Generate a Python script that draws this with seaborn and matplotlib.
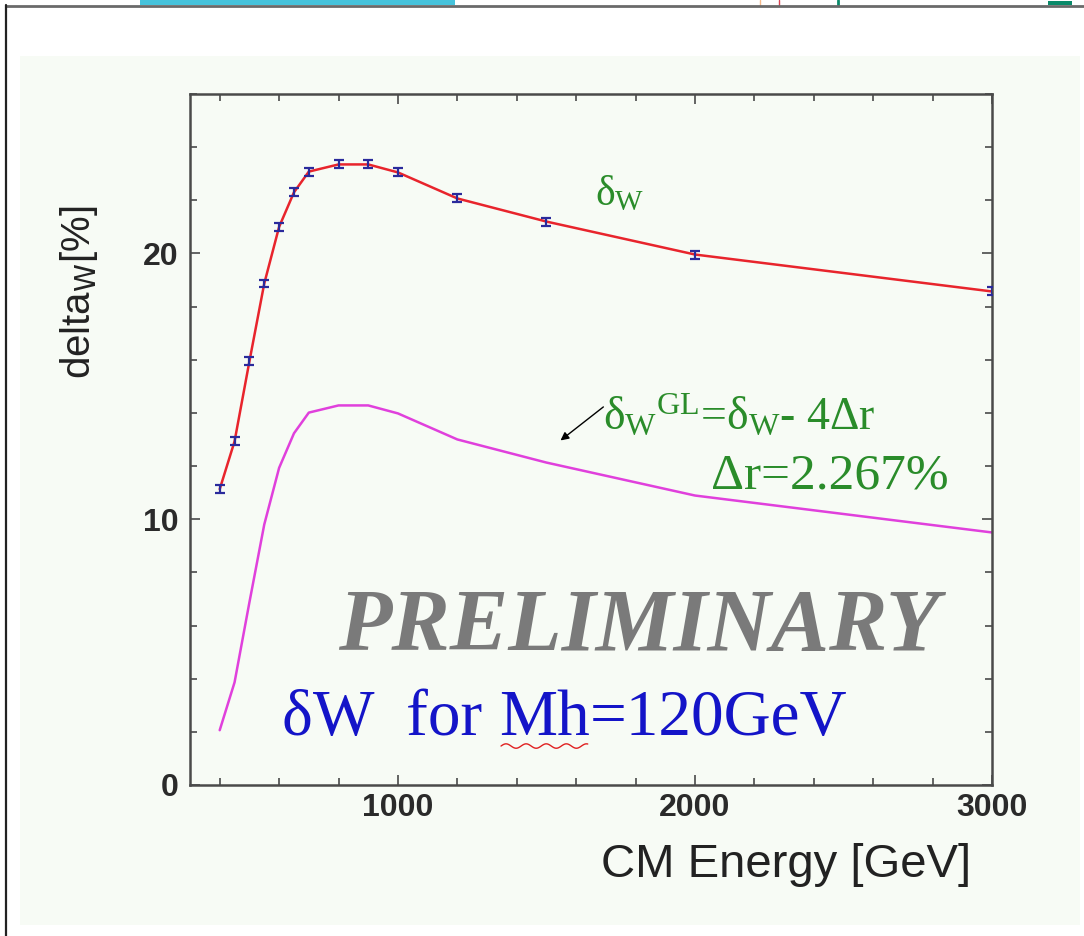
import numpy as np
import pandas as pd
import matplotlib
matplotlib.use("Agg")
import matplotlib.pyplot as plt
from matplotlib.patches import Rectangle
from matplotlib.lines import Line2D
from matplotlib.ticker import MultipleLocator
import seaborn as sns

# W-pair radiative correction delta_W versus centre-of-mass energy
energy_gev = [400, 450, 500, 550, 600, 650, 700, 800, 900, 1000, 1200, 1500, 2000, 3000]
delta_w = [11.13, 12.93, 15.94, 18.87, 21.00, 22.30, 23.08, 23.35, 23.35, 23.05,
           22.07, 21.20, 19.96, 18.57]
delta_w_err = [0.15, 0.15, 0.15, 0.15, 0.15, 0.15, 0.15, 0.15, 0.15, 0.15,
               0.15, 0.15, 0.15, 0.15]
delta_r = 2.267  # [%]

x_ticks = [1000, 2000, 3000]
y_ticks = [0, 10, 20]

# G_mu-scheme correction: delta_W^GL = delta_W - 4 * delta_r
delta_w_gl = [d - 4 * delta_r for d in delta_w]

df = pd.DataFrame({"energy": energy_gev, "delta_w": delta_w, "delta_w_gl": delta_w_gl})

sns.set_style("ticks")
plt.rcParams["font.family"] = ["Liberation Sans", "DejaVu Sans"]
plt.rcParams["mathtext.fontset"] = "custom"
plt.rcParams["mathtext.rm"] = "Liberation Serif"
plt.rcParams["mathtext.it"] = "Liberation Serif:italic"
plt.rcParams["mathtext.bf"] = "Liberation Serif:bold"

W, H = 1084, 936
fig = plt.figure(figsize=(W / 100, H / 100), dpi=100, facecolor="white")


def fx(x):
    return x / W


def fy(y):
    return 1 - y / H


# slide frame
fig.add_artist(Rectangle((fx(20), fy(925)), fx(1060), (925 - 56) / H,
                         transform=fig.transFigure, facecolor="#f7fbf5",
                         edgecolor="none", zorder=0))
fig.add_artist(Rectangle((fx(140), fy(5)), fx(315), 5 / H,
                         transform=fig.transFigure, facecolor="#46c3dc",
                         edgecolor="none", zorder=1))
fig.add_artist(Rectangle((fx(1048), fy(5)), fx(24), 4 / H,
                         transform=fig.transFigure, facecolor="#0a8a6a",
                         edgecolor="none", zorder=1))
fig.add_artist(Line2D([fx(760), fx(760)], [fy(0), fy(5)], transform=fig.transFigure,
                      color="#f5b98a", lw=1))
fig.add_artist(Line2D([fx(779), fx(779)], [fy(0), fy(5)], transform=fig.transFigure,
                      color="#d84050", lw=1))
fig.add_artist(Line2D([fx(838), fx(838)], [fy(0), fy(5)], transform=fig.transFigure,
                      color="#0a8a6a", lw=2))
fig.add_artist(Line2D([fx(6), fx(1084)], [fy(5.5), fy(5.5)], transform=fig.transFigure,
                      color="#6a6a6a", lw=2))
fig.add_artist(Line2D([fx(6), fx(6)], [fy(5), fy(936)], transform=fig.transFigure,
                      color="#222222", lw=1.6))

ax = fig.add_axes([fx(190), fy(785), (992 - 190) / W, (785 - 94) / H])
ax.set_facecolor("#f7fbf5")

sns.lineplot(data=df, x="energy", y="delta_w_gl", ax=ax, color="#e040dc",
             linewidth=1.8, sort=False)
sns.lineplot(data=df, x="energy", y="delta_w", ax=ax, color="#e8242c",
             linewidth=1.8, sort=False)
ax.errorbar(energy_gev, delta_w, yerr=delta_w_err, fmt="none", ecolor="#2a2a9c",
            elinewidth=1.6, capsize=3.5, capthick=1.6, zorder=4)

ax.set_xlim(300, 3000)
ax.set_ylim(0, 26)
ax.set_xticks(x_ticks)
ax.set_yticks(y_ticks)
ax.set_xticklabels([str(t) for t in x_ticks], fontweight="bold")
ax.set_yticklabels([str(t) for t in y_ticks], fontweight="bold")
ax.xaxis.set_minor_locator(MultipleLocator(200))
ax.yaxis.set_minor_locator(MultipleLocator(2))
ax.tick_params(which="both", direction="in", top=True, right=True,
               color="#4a4a4a", width=1.2)
ax.tick_params(which="major", length=7, labelsize=23, labelcolor="#2a2a2a")
ax.tick_params(axis="x", which="major", pad=6)
ax.tick_params(axis="y", which="major", pad=8)
ax.tick_params(which="minor", length=5)
for sp in ax.spines.values():
    sp.set_color("#4a4a4a")
    sp.set_linewidth(1.8)

ax.set_xlabel("CM Energy [GeV]", fontsize=34, color="#222222")
ax.xaxis.set_label_coords(0.743, -0.084)
ax.set_ylabel("delta$_\\mathsf{W}$[%]", fontsize=29, color="#222222",
              math_fontfamily="dejavusans")
ax.yaxis.set_label_coords(-0.112, 0.713)

green = "#2a8c2a"
serif = ["Liberation Serif", "DejaVu Serif"]
ax.text(1665, 21.8, "δ$_\\mathrm{W}$", color=green, fontsize=30, family=serif,
        ha="left", va="baseline")
ax.text(1692, 13.4, "δ$_\\mathrm{W}$$^\\mathrm{GL}$=δ$_\\mathrm{W}$- 4Δr", color=green,
        fontsize=33, family=serif, ha="left", va="baseline")
ax.text(2054, 11.17, "Δr=2.267%", color=green, fontsize=37, family=serif,
        ha="left", va="baseline")
ax.annotate("", xy=(1540, 12.9), xytext=(1699, 14.29),
            arrowprops=dict(arrowstyle="-|>", color="black", lw=1.0,
                            mutation_scale=12))

ax.text(797, 5.08, "PRELIMINARY", color="#7a7a7a", fontsize=63, family=serif,
        fontweight="bold", fontstyle="italic", ha="left", va="baseline")

blue = "#1414c8"
t1 = ax.text(611, 1.88, "δW  for ", color=blue, fontsize=47, family=serif,
             ha="left", va="baseline")
t2 = ax.annotate("Mh", xy=(1, 0), xycoords=t1, color=blue, fontsize=47,
                 family=serif, ha="left", va="bottom")
t3 = ax.annotate("=120GeV", xy=(1, 0), xycoords=t2, color=blue, fontsize=47,
                 family=serif, ha="left", va="bottom")

# spell-check style wavy underline under "Mh"
fig.canvas.draw()
bb = t2.get_window_extent()
xs = np.linspace(bb.x0 + 2, bb.x1 - 2, 120)
ys = bb.y0 + 3 + 2.2 * np.sin((xs - xs[0]) / 3.2)
inv = fig.transFigure.inverted()
pts = inv.transform(np.column_stack([xs, ys]))
fig.add_artist(Line2D(pts[:, 0], pts[:, 1], transform=fig.transFigure,
                      color="#e02020", lw=1.0))

fig.savefig("out.png", dpi=100, facecolor="white")
